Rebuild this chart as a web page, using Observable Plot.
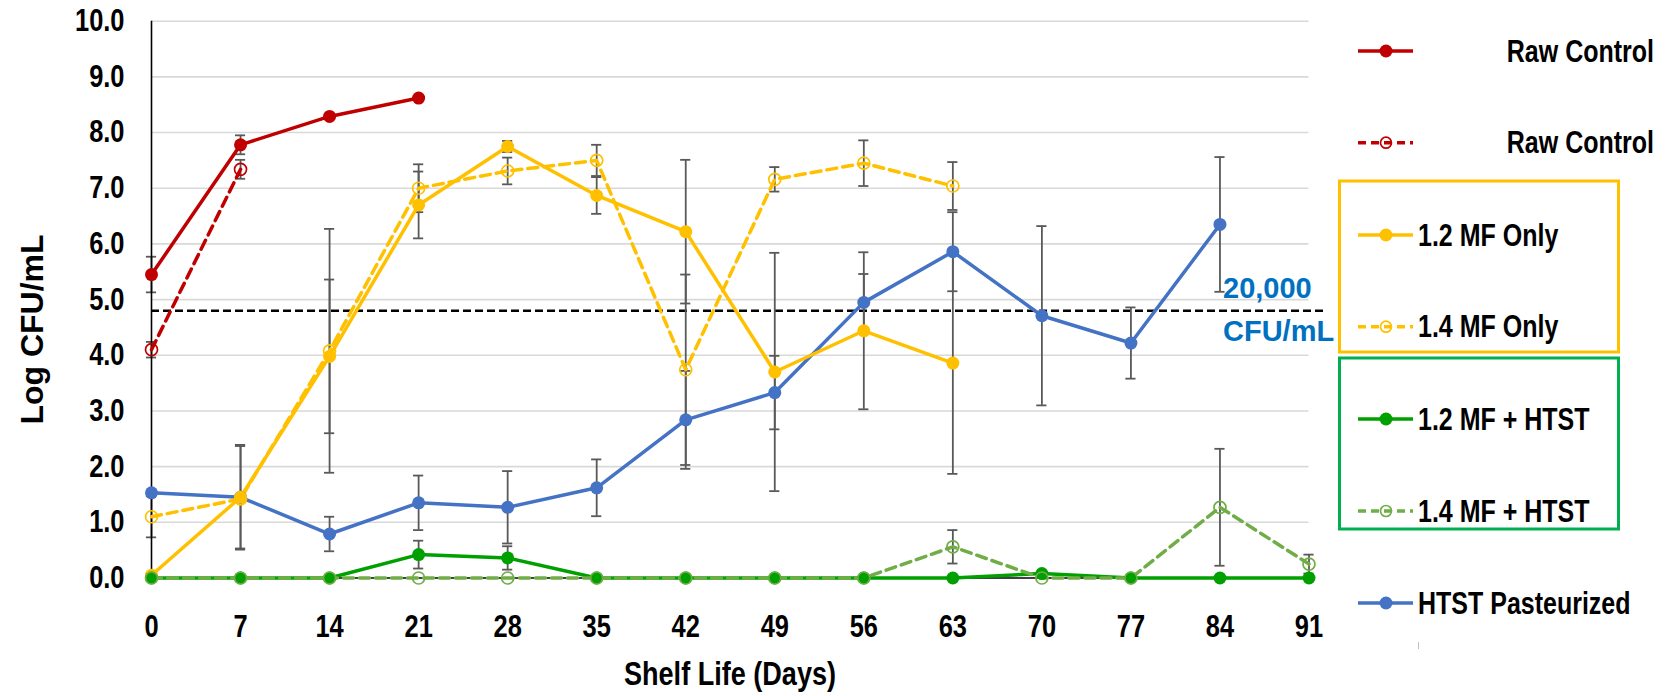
<!DOCTYPE html>
<html><head><meta charset="utf-8">
<script src="https://cdn.jsdelivr.net/npm/d3@7"></script>
<script src="https://cdn.jsdelivr.net/npm/@observablehq/plot@0.6"></script>
<style>
html,body{margin:0;padding:0;background:#fff;}
#chart{position:relative;width:1680px;height:696px;}
</style></head><body><div id="chart"></div>
<script>
// ---------- data ----------
const days = [0, 7, 14, 21, 28, 35, 42, 49, 56, 63, 70, 77, 84, 91];
const yTicks = [0, 1, 2, 3, 4, 5, 6, 7, 8, 9, 10];

const rawControlSolid    = [5.45, 7.78, 8.29, 8.62, null, null, null, null, null, null, null, null, null, null];
const rawControlSolidErr = [0.32, 0.17, 0, 0, 0, 0, 0, 0, 0, 0, 0, 0, 0, 0];
const rawControlDash     = [4.10, 7.34, null, null, null, null, null, null, null, null, null, null, null, null];
const rawControlDashErr  = [0.14, 0.17, 0, 0, 0, 0, 0, 0, 0, 0, 0, 0, 0, 0];
const mf12Only    = [0.05, 1.45, 3.98, 6.70, 7.75, 6.87, 6.22, 3.70, 4.44, 3.86, null, null, null, null];
const mf12OnlyErr = [0, 0.92, 1.38, 0.60, 0.10, 0.33, 1.29, 2.14, 1.41, 1.99, 0, 0, 0, 0];
const mf14Only    = [1.10, 1.42, 4.08, 7.00, 7.31, 7.50, 3.74, 7.16, 7.45, 7.04, null, null, null, null];
const mf14OnlyErr = [0.37, 0, 2.19, 0.43, 0.24, 0.28, 1.71, 0.22, 0.41, 0.43, 0, 0, 0, 0];
const mf12Htst    = [0, 0, 0, 0.42, 0.36, 0, 0, 0, 0, 0, 0.08, 0, 0, 0];
const mf12HtstErr = [0, 0, 0, 0.25, 0.21, 0, 0, 0, 0, 0, 0, 0, 0, 0];
const mf14Htst    = [0, 0, 0, 0, 0, 0, 0, 0, 0, 0.56, 0, 0, 1.27, 0.25];
const mf14HtstErr = [0, 0, 0, 0, 0, 0, 0, 0, 0, 0.30, 0, 0, 1.05, 0.17];
const htst        = [1.53, 1.45, 0.79, 1.35, 1.27, 1.62, 2.84, 3.33, 4.95, 5.86, 4.71, 4.22, 6.35, null];
const htstErr     = [0, 0.94, 0.31, 0.49, 0.65, 0.51, 0.88, 0.66, 0.51, 0.71, 1.61, 0.64, 1.21, 0];

const threshold = 4.8;
const thresholdSpan = [0, 92.3];
const thresholdLabel = ["20,000", "CFU/mL"];

const seriesNames = ["Raw Control", "Raw Control", "1.2 MF Only", "1.4 MF Only", "1.2 MF + HTST", "1.4 MF + HTST", "HTST Pasteurized"];
const seriesColors = ["#C00000", "#C00000", "#FFC000", "#FFC000", "#00A000", "#70AD47", "#4472C4"];
const seriesDashed = [false, true, false, true, false, true, false];
const seriesValues = [rawControlSolid, rawControlDash, mf12Only, mf14Only, mf12Htst, mf14Htst, htst];
const seriesErrors = [rawControlSolidErr, rawControlDashErr, mf12OnlyErr, mf14OnlyErr, mf12HtstErr, mf14HtstErr, htstErr];
const drawOrder = [6, 0, 1, 2, 3, 4, 5];

// ---------- build ----------
const FONT = '"Liberation Sans",Arial,sans-serif';
const NARROW_K = 0.82;
const series = seriesNames.map((name, i) => ({
  name, color: seriesColors[i], dashed: seriesDashed[i],
  rows: days.map((d, j) => ({day: d, v: seriesValues[i][j], e: seriesErrors[i][j]})).filter(r => r.v != null)
}));

const errRows = series.flatMap(s => s.rows.filter(r => r.e > 0));
const capHalf = 0.4;
const capRows = errRows.flatMap(r => [{day: r.day, v: r.v - r.e}, {day: r.day, v: r.v + r.e}]);

const marks = [
  Plot.ruleY(yTicks.filter(t => t > 0), {stroke: "#D9D9D9", strokeWidth: 1.6}),
  Plot.ruleY([0], {stroke: "#000", strokeWidth: 1.5}),
  Plot.ruleY([threshold], {x1: thresholdSpan[0], x2: thresholdSpan[1], stroke: "#000", strokeWidth: 2.5, strokeDasharray: "8,4"}),
  Plot.text([thresholdLabel[0]], {x: days[days.length - 1], y: threshold, text: d => d, textAnchor: "start", lineAnchor: "bottom", dx: -86, dy: -13, fill: "#0070C0", fontFamily: FONT, fontWeight: "bold", fontSize: 29}),
  Plot.text([thresholdLabel[1]], {x: days[days.length - 1], y: threshold, text: d => d, textAnchor: "start", lineAnchor: "bottom", dx: -86, dy: 30, fill: "#0070C0", fontFamily: FONT, fontWeight: "bold", fontSize: 29}),
  Plot.ruleX(errRows, {x: "day", y1: r => r.v - r.e, y2: r => r.v + r.e, stroke: "#595959", strokeWidth: 1.8}),
  Plot.ruleY(capRows, {y: "v", x1: r => r.day - capHalf, x2: r => r.day + capHalf, stroke: "#595959", strokeWidth: 1.8}),
  Plot.ruleX([0], {y1: yTicks[0], y2: yTicks[yTicks.length - 1], stroke: "#000", strokeWidth: 1.6}),
];
for (const i of drawOrder) {
  const s = series[i];
  marks.push(Plot.line(s.rows, {x: "day", y: "v", stroke: s.color, strokeWidth: 3.5, strokeDasharray: s.dashed ? "10,6" : null}));
}
for (const i of drawOrder) {
  const s = series[i];
  if (s.dashed) marks.push(Plot.dot(s.rows, {x: "day", y: "v", r: 6, stroke: s.color, strokeWidth: 1.7, fill: "none"}));
  else marks.push(Plot.dot(s.rows, {x: "day", y: "v", r: 6.5, fill: s.color, stroke: "none"}));
}
marks.push(
  Plot.axisY({ticks: yTicks, tickFormat: d => d.toFixed(1), tickSize: 0, tickPadding: 27, label: null, fontSize: 31}),
  Plot.axisX({ticks: days, tickFormat: d => String(d), tickSize: 0, tickPadding: 37, label: null, fontSize: 31})
);

const svgEl = Plot.plot({
  width: 1680, height: 696,
  marginLeft: 151, marginRight: 371.5, marginTop: 20.7, marginBottom: 118.5,
  x: {domain: [0, 91]},
  y: {domain: [0, 10]},
  style: {fontFamily: FONT, fontWeight: "bold", fontSize: "31px", color: "#000", background: "#fff", overflow: "visible"},
  marks
});
document.getElementById("chart").appendChild(svgEl);

const svg = d3.select(svgEl);
// axis titles
svg.append("text").attr("transform", "translate(43,329.5) rotate(-90)").attr("text-anchor", "middle")
  .attr("font-family", FONT).attr("font-weight", "bold").attr("font-size", 32).attr("fill", "#000").text("Log CFU/mL");
svg.append("text").attr("class", "narrow").attr("x", 730).attr("y", 685).attr("text-anchor", "middle")
  .attr("font-family", FONT).attr("font-weight", "bold").attr("font-size", 33).attr("fill", "#000").text("Shelf Life (Days)");

// legend
const legendRows = [51, 142.7, 235, 326.7, 419, 511, 603];
const legendTextX = [1654, 1654, 1418, 1418, 1418, 1418, 1418];
const legendAnchor = ["end", "end", "start", "start", "start", "start", "start"];
const lg = svg.append("g");
lg.append("rect").attr("x", 1339.5).attr("y", 181).attr("width", 279).attr("height", 171).attr("fill", "none").attr("stroke", "#FFC000").attr("stroke-width", 3);
lg.append("rect").attr("x", 1339.5).attr("y", 358).attr("width", 279).attr("height", 171).attr("fill", "none").attr("stroke", "#00B050").attr("stroke-width", 3);
series.forEach((s, i) => {
  const y = legendRows[i];
  lg.append("line").attr("x1", 1358).attr("x2", 1413).attr("y1", y).attr("y2", y)
    .attr("stroke", s.color).attr("stroke-width", 3.5).attr("stroke-dasharray", s.dashed ? "8,5" : null);
  if (s.dashed) lg.append("circle").attr("cx", 1386).attr("cy", y).attr("r", 5.5).attr("fill", "none").attr("stroke", s.color).attr("stroke-width", 1.7);
  else lg.append("circle").attr("cx", 1386).attr("cy", y).attr("r", 6.5).attr("fill", s.color);
  // condensed via a horizontal scale transform
  lg.append("text").attr("transform", `translate(${legendTextX[i]},${y}) scale(${NARROW_K},1)`).attr("dy", "0.35em").attr("text-anchor", legendAnchor[i])
    .attr("font-family", FONT).attr("font-weight", "bold").attr("font-size", 30.5).attr("fill", "#000").text(s.name);
});
lg.append("line").attr("x1", 1418.5).attr("x2", 1418.5).attr("y1", 642).attr("y2", 649).attr("stroke", "#BFBFBF").attr("stroke-width", 1);

// condense the Calibri-like narrow texts (axis ticks, x title); re-anchor to start
function condense(sel) {
  sel.each(function () {
    const L = this.getComputedTextLength();
    if (!(L > 0)) return;
    const newL = L * NARROW_K;
    const anchor = getComputedStyle(this).textAnchor;
    const x0 = parseFloat(this.getAttribute("x") || "0");
    const shift = anchor === "end" ? newL : anchor === "middle" ? newL / 2 : 0;
    this.setAttribute("x", (x0 - shift).toFixed(2));
    this.setAttribute("text-anchor", "start");
    this.setAttribute("textLength", newL.toFixed(2));
    this.setAttribute("lengthAdjust", "spacingAndGlyphs");
  });
}
condense(svg.selectAll('g[aria-label="x-axis tick label"] text, g[aria-label="y-axis tick label"] text, text.narrow'));
</script></body></html>
